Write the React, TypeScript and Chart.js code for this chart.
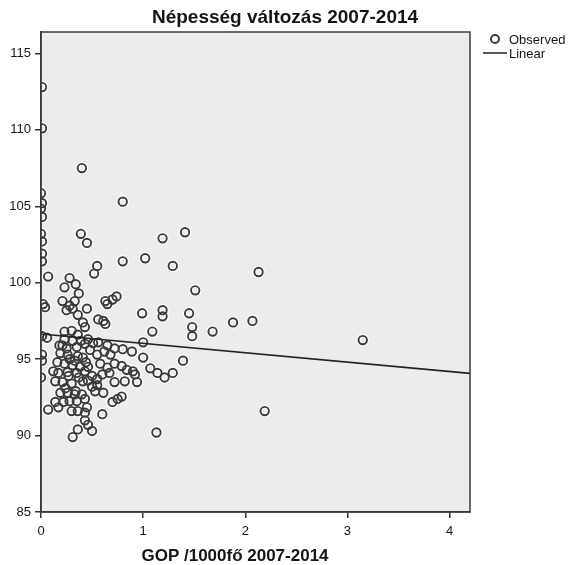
import React, { useEffect, useRef } from "react";
import { Chart, registerables } from "chart.js";

Chart.register(...registerables);

// ---- data ----
const observedX = [
  0.01, 0.01, 0.0, 0.01, 0.0, 0.01, 0.4, 0.8, 0.0, 0.39,
  0.01, 0.45, 1.19, 1.41, 0.01, 0.01, 0.8, 1.02, 1.29, 2.13,
  0.07, 0.55, 0.52, 0.28, 0.34, 0.23, 0.37, 1.51, 0.21, 0.33,
  0.28, 0.31, 0.25, 0.45, 0.36, 0.63, 0.65, 0.7, 0.74, 0.56,
  0.61, 0.63, 0.99, 1.19, 1.19, 1.45, 1.88, 2.07, 0.02, 0.04,
  0.41, 0.43, 1.09, 1.48, 1.48, 1.68, 3.15, 0.06, 0.01, 0.23,
  0.3, 0.36, 0.23, 0.31, 0.46, 0.56, 1.0, 0.21, 0.25, 0.35,
  0.43, 0.51, 0.65, 0.72, 0.8, 0.89, 0.19, 0.26, 0.36, 0.41,
  0.55, 1.0, 1.39, 0.16, 0.23, 0.31, 0.38, 0.46, 0.58, 0.65,
  0.72, 0.79, 0.84, 0.9, 0.67, 0.12, 0.17, 0.26, 0.35, 0.43,
  0.5, 0.55, 0.6, 1.07, 1.14, 1.21, 1.29, 0.92, 0.94, 0.72,
  0.82, 0.14, 0.21, 0.3, 0.41, 0.5, 0.61, 0.19, 0.26, 0.33,
  0.4, 0.53, 0.7, 0.75, 0.79, 0.14, 0.22, 0.28, 0.35, 0.43,
  0.07, 0.17, 0.45, 0.3, 0.36, 0.43, 0.6, 0.43, 0.46, 0.36,
  0.5, 0.31, 2.19, 1.13, 0.01, 0.01, 0.0,
  0.18, 0.28, 0.33, 0.44, 0.48, 0.39, 0.27, 0.37, 0.46, 0.24,
  0.34, 0.55, 0.62, 0.68,
];
const observedY = [
  112.8, 110.1, 105.85, 105.2, 104.85, 104.3, 107.5, 105.3, 103.2, 103.2,
  102.7, 102.6, 102.9, 103.3, 101.9, 101.4, 101.4, 101.6, 101.1, 100.7,
  100.4, 101.1, 100.6, 100.3, 99.9, 99.7, 99.3, 99.5, 98.8, 98.8,
  98.5, 98.3, 98.2, 98.3, 97.9, 98.8, 98.6, 98.9, 99.1, 97.6,
  97.5, 97.3, 98.0, 98.2, 97.8, 98.0, 97.4, 97.5, 98.6, 98.4,
  97.4, 97.1, 96.8, 97.1, 96.5, 96.8, 96.25, 96.4, 96.5, 96.8,
  96.85, 96.6, 96.3, 96.2, 96.3, 96.1, 96.1, 95.9, 95.7, 95.8,
  96.0, 96.05, 95.9, 95.7, 95.65, 95.5, 95.4, 95.3, 95.2, 95.1,
  95.3, 95.1, 94.9, 94.8, 94.7, 94.6, 94.5, 94.5, 94.7, 94.45,
  94.7, 94.55, 94.3, 94.2, 94.1, 94.2, 94.1, 94.15, 94.1, 94.2,
  93.9, 93.7, 94.0, 94.4, 94.1, 93.8, 94.1, 94.0, 93.5, 93.5,
  93.55, 93.55, 93.5, 93.4, 93.55, 93.2, 92.8, 92.8, 92.8, 92.7,
  92.7, 92.9, 92.2, 92.4, 92.55, 92.2, 92.2, 92.25, 92.25, 92.4,
  91.7, 91.85, 91.85, 91.6, 91.6, 91.5, 91.4, 91.0, 90.7, 90.4,
  90.3, 89.9, 91.6, 90.2, 95.3, 94.9, 93.8,
  95.9, 95.0, 94.9, 94.8, 95.6, 96.2, 93.9, 93.8, 93.6, 93.1,
  92.9, 93.3, 95.5, 95.3,
];
const linearX = [0, 4.2];
const linearY = [96.64, 94.07];

const xTicks = [0, 1, 2, 3, 4];
const yTicks = [85, 90, 95, 100, 105, 110, 115];

const titleText = "Népesség változás 2007-2014";
const xAxisTitle = "GOP /1000fő 2007-2014";
const legendLabels = ["Observed", "Linear"];

const FONT = "'Liberation Sans', Arial, Helvetica, sans-serif";
const INK = "#3a3a3a";
const TEXT = "#151515";

const decorPlugin = {
  id: "decor",
  beforeDraw(chart: any) {
    const { ctx, chartArea: a } = chart;
    ctx.save();
    ctx.fillStyle = "#ffffff";
    ctx.fillRect(0, 0, chart.width, chart.height);
    ctx.fillStyle = "#ececec";
    ctx.fillRect(a.left, a.top, a.right - a.left, a.bottom - a.top);
    ctx.restore();
  },
  afterDraw(chart: any) {
    const { ctx, chartArea: a } = chart;
    ctx.save();
    // frame
    ctx.strokeStyle = "#3a3a3a";
    ctx.lineWidth = 1.5;
    ctx.strokeRect(a.left, a.top, a.right - a.left, a.bottom - a.top);
    // title
    ctx.fillStyle = TEXT;
    ctx.textAlign = "center";
    ctx.textBaseline = "middle";
    ctx.font = `bold 19px ${FONT}`;
    ctx.fillText(titleText, 285, 18);
    // x axis title
    ctx.font = `bold 17px ${FONT}`;
    ctx.fillText(xAxisTitle, 235, 556);
    // legend
    ctx.textAlign = "left";
    ctx.font = `13px ${FONT}`;
    ctx.strokeStyle = INK;
    ctx.lineWidth = 1.9;
    ctx.beginPath();
    ctx.arc(495, 39, 4, 0, Math.PI * 2);
    ctx.stroke();
    ctx.fillText(legendLabels[0], 509, 40);
    ctx.strokeStyle = "#222";
    ctx.lineWidth = 1.5;
    ctx.beginPath();
    ctx.moveTo(483, 53);
    ctx.lineTo(507, 53);
    ctx.stroke();
    ctx.fillText(legendLabels[1], 509, 54);
    ctx.restore();
  },
};

export default function App() {
  const ref = useRef<HTMLCanvasElement | null>(null);

  useEffect(() => {
    document.body.style.margin = "0";
    if (!ref.current) return;
    const points = observedX.map((x, i) => ({ x, y: observedY[i] }));
    const line = linearX.map((x, i) => ({ x, y: linearY[i] }));
    const chart = new Chart(ref.current, {
      type: "scatter",
      data: {
        datasets: [
          {
            label: "Linear",
            type: "line",
            data: line,
            borderColor: "#222",
            borderWidth: 1.6,
            pointRadius: 0,
            fill: false,
            order: 0,
          } as any,
          {
            label: legendLabels[0],
            data: points,
            pointStyle: "circle",
            pointRadius: 4.2,
            pointBorderWidth: 1.9,
            pointBorderColor: INK,
            pointBackgroundColor: "rgba(0,0,0,0)",
            borderColor: INK,
            backgroundColor: "rgba(0,0,0,0)",
            order: 1,
          },
          {
            label: "halo",
            data: points,
            pointStyle: "circle",
            pointRadius: 4.3,
            pointBorderWidth: 4.2,
            pointBorderColor: "rgba(255,255,255,0.85)",
            pointBackgroundColor: "rgba(0,0,0,0)",
            borderColor: "rgba(0,0,0,0)",
            backgroundColor: "rgba(0,0,0,0)",
            order: 2,
          },
        ],
      },
      options: {
        animation: false,
        responsive: false,
        devicePixelRatio: 1,
        layout: { padding: { top: 32, right: 98, left: 0, bottom: 0 } },
        plugins: {
          legend: { display: false },
          title: { display: false },
          tooltip: { enabled: false },
        },
        scales: {
          x: {
            type: "linear",
            min: 0,
            max: 4.2,
            afterFit: (s: any) => {
              s.height = 53;
            },
            afterBuildTicks: (s: any) => {
              s.ticks = xTicks.map((v) => ({ value: v }));
            },
            ticks: {
              includeBounds: false,
              font: { family: FONT, size: 13 },
              color: TEXT,
              padding: 6,
              maxRotation: 0,
              autoSkip: false,
            },
            grid: {
              drawOnChartArea: false,
              drawTicks: true,
              tickLength: 6,
              color: "#333",
              lineWidth: 1.5,
            },
            border: { display: true, color: "#333", width: 1.5 },
          },
          y: {
            type: "linear",
            min: 85,
            max: 116.4,
            afterFit: (s: any) => {
              s.width = 41;
            },
            afterBuildTicks: (s: any) => {
              s.ticks = yTicks.map((v) => ({ value: v }));
            },
            ticks: {
              includeBounds: false,
              font: { family: FONT, size: 13 },
              color: TEXT,
              padding: 4,
              autoSkip: false,
            },
            grid: {
              drawOnChartArea: false,
              drawTicks: true,
              tickLength: 6,
              color: "#333",
              lineWidth: 1.5,
            },
            border: { display: true, color: "#333", width: 1.5 },
          },
        },
      } as any,
      plugins: [decorPlugin],
    });
    return () => chart.destroy();
  }, []);

  return (
    <div style={{ width: 568, height: 565, background: "#fff" }}>
      <canvas ref={ref} width={568} height={565} style={{ display: "block" }} />
    </div>
  );
}
